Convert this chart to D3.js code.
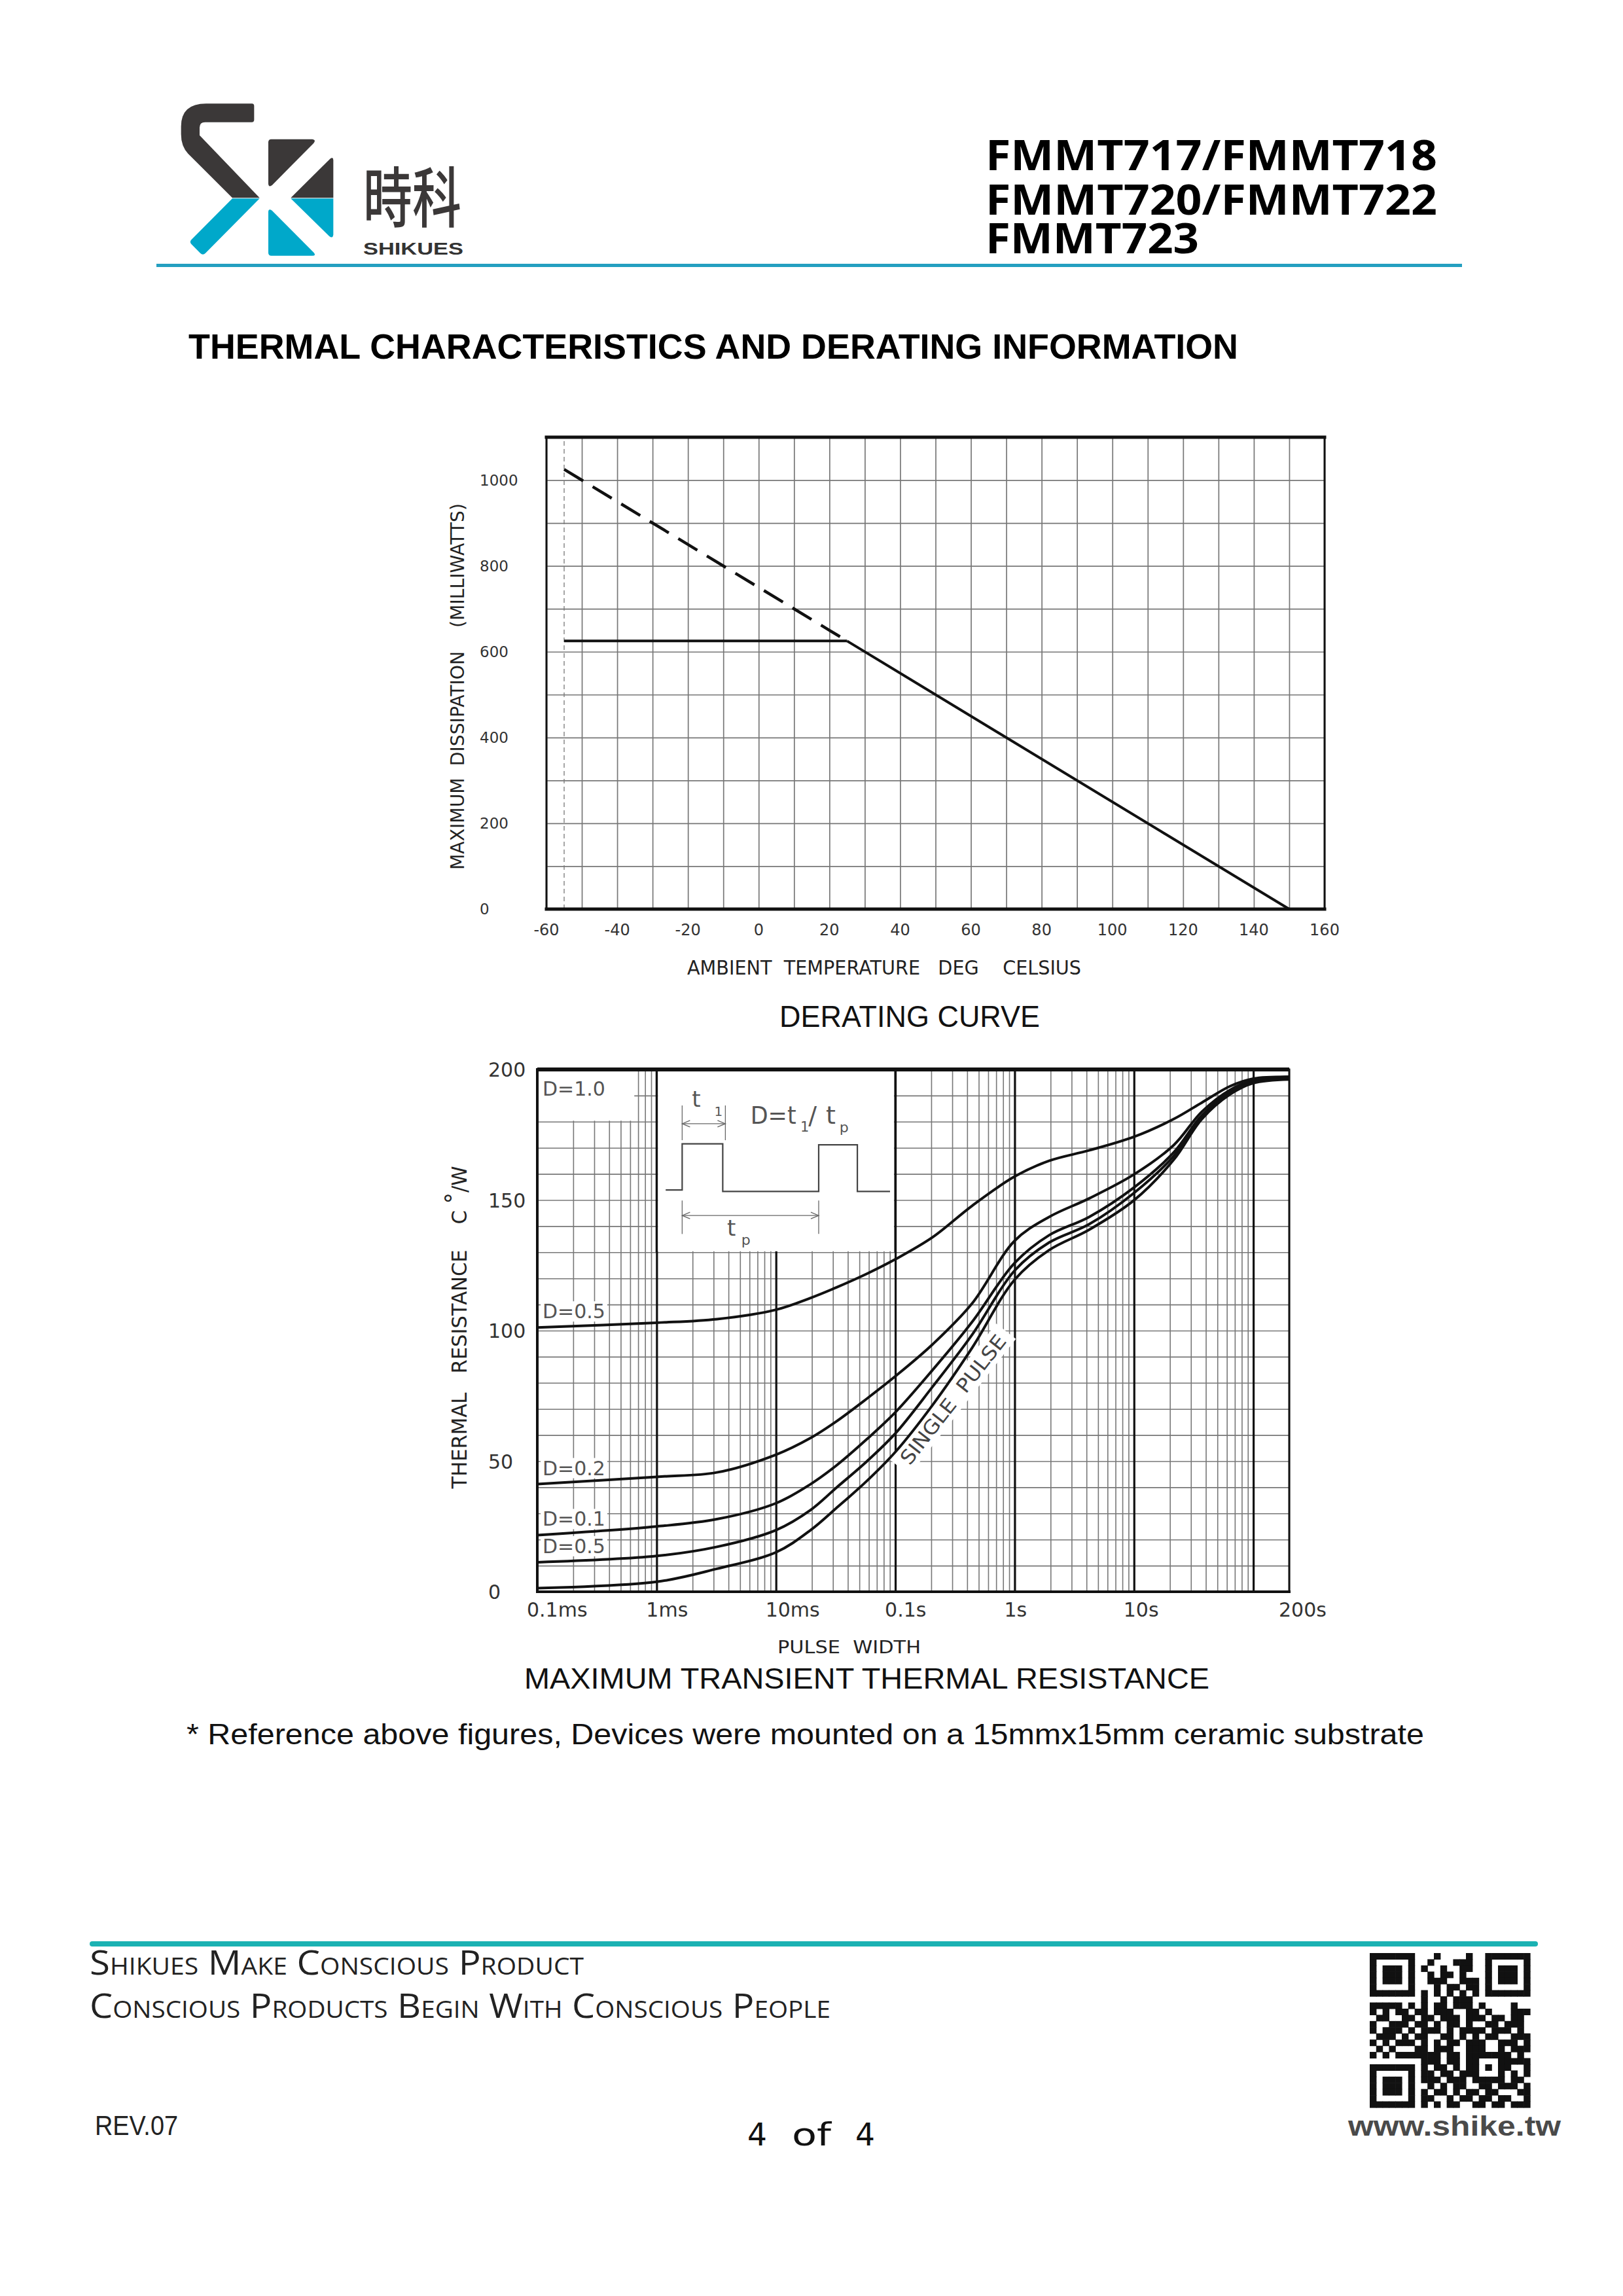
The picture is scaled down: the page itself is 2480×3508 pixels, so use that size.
<!DOCTYPE html>
<html><head><meta charset="utf-8">
<script src="https://cdn.jsdelivr.net/npm/d3@7"></script>
<style>body{margin:0;background:#fff}svg{display:block}</style>
</head><body>
<svg id="page" width="2480" height="3508"></svg>
<script>
// ---------------- DATA ----------------
// Derating curve
const deratingTempTicks = [-60, -40, -20, 0, 20, 40, 60, 80, 100, 120, 140, 160];
const deratingPowerTicks = [0, 200, 400, 600, 800, 1000];
const deratingDashedT = [-55, 25];
const deratingDashedP = [1025, 625];
const deratingFlatT = [-55, 25];
const deratingFlatP = [625, 625];
const deratingSlopeT = [25, 150];
const deratingSlopeP = [625, 0];
const deratingMinTemp = -55;

// Transient thermal resistance (pulse width in seconds, resistance in C/W)
const pulseWidths = [1e-4, 1e-3, 3.2e-3, 1e-2, 0.0195, 0.032, 0.058, 0.1, 0.206, 0.44, 1, 1.94, 4.2, 10, 21.5, 37, 64, 100, 200];
const rD050 = [101.2, 103, 104.4, 108, 112.5, 116.5, 121.8, 127.3, 135.8, 147.8, 159, 165, 169, 174.2, 181, 187.3, 193.6, 196.5, 197.2];
const rD020 = [41.2, 44, 45.7, 52.5, 58.9, 65.2, 74, 82.5, 94.8, 110.4, 134.4, 143.5, 150.6, 159.8, 171, 183.8, 192.2, 195.8, 197.2];
const rD010 = [21.7, 25, 27.8, 33.9, 41.2, 48.3, 58.5, 68.7, 85, 103.3, 125.9, 136.5, 143.5, 154.8, 168.2, 182.4, 191.5, 195.3, 196.8];
const rD005 = [11.3, 13.7, 17.2, 23.6, 31.3, 39.8, 50, 60.6, 78.6, 98.4, 123, 133.7, 140.7, 152.7, 166.8, 181.7, 191.1, 195, 196.5];
const rSingle = [1.4, 3.8, 8.8, 15.1, 23.6, 32, 42.5, 53.5, 71.6, 93.4, 119.5, 130.8, 138.6, 149.9, 165.4, 181, 190.5, 194.8, 196.2];
const rD100Widths = [1e-4, 200];
const rD100 = [200, 200];
const curveLabels = ["D=1.0", "D=0.5", "D=0.2", "D=0.1", "D=0.5"];
const transientTickValues = [1e-4, 1e-3, 1e-2, 0.1, 1, 10, 200];
const transientTickLabels = ["0.1ms", "1ms", "10ms", "0.1s", "1s", "10s", "200s"];
const decadeLines = [1e-3, 1e-2, 0.1, 1, 10, 100];
const resistanceTicks = [0, 50, 100, 150, 200];
const insetT = [1e-3, 0.1];
const insetR = [130, 200];
const d10BoxT = [1e-4, 6.5e-4];
const d10BoxR = [180, 200];

// QR code bitmap (approximate)
const qrRows = [
"1111111000100001001111111",
"1000001001000111001000001",
"1011101010010011001011101",
"1011101001011010001011101",
"1011101001110011101011101",
"1000001000101101101000001",
"1111111010101010101111111",
"0000000010010111000000000",
"1111101010110111010000100",
"1010110110111001101000111",
"0110011011011101110110110",
"1001110110101101001101110",
"1011101011101011110111010",
"0111010110011010101100111",
"1010111010101101110011101",
"0101000110111001110010111",
"1010111111101101111111010",
"0000000011101101100011111",
"1111111010110101101011001",
"1000001011011011100010101",
"1011101011101110111110110",
"1011101001010110011011101",
"1011101010110101101100011",
"1000001011001011011011001",
"1111111010101100110110111"
];

// ---------------- DRAWING ----------------
const svg = d3.select("#page");
svg.append("rect").attr("width", 2480).attr("height", 3508).attr("fill", "#fff");

function txt(g, s, x, y, o = {}) {
  const t = g.append("text").attr("x", x).attr("y", y)
    .attr("font-family", o.family || "DejaVu Sans")
    .attr("font-size", o.size || 30)
    .attr("fill", o.fill || "#222")
    .attr("xml:space", "preserve")
    .style("white-space", "pre")
    .text(s);
  if (o.weight) t.attr("font-weight", o.weight);
  if (o.anchor) t.attr("text-anchor", o.anchor);
  if (o.len) t.attr("textLength", o.len).attr("lengthAdjust", o.adjust || "spacingAndGlyphs");
  if (o.style) t.attr("style", o.style + ";white-space:pre");
  return t;
}

// ---- Header / logo ----
const logo = svg.append("g").attr("transform", "translate(250,140) scale(0.33333)");
const dark = "#3b3838", blue = "#00a8ca";
logo.append("path").attr("fill", dark)
  .attr("d", "M405,55 Q415,55 415,66 L415,129 Q415,140 404,140 L190,140 Q165,140 165,165 L165,200 L440,487 L315,487 L112,284 Q80,250 80,195 L80,160 Q80,55 195,55 Z");
logo.append("path").attr("fill", blue)
  .attr("d", "M315,490 L440,490 L192,740 Q180,752 168,740 L128,700 Q117,689 128,678 Z");
logo.append("path").attr("fill", dark)
  .attr("d", "M480,232 Q480,218 494,218 L682,218 Q700,221 688,236 L498,428 Q482,441 480,422 Z");
logo.append("path").attr("fill", dark)
  .attr("d", "M583,487 L763,308 Q778,297 778,316 L778,487 Z");
logo.append("path").attr("fill", blue)
  .attr("d", "M583,490 L778,490 L778,655 Q776,676 759,662 Z");
logo.append("path").attr("fill", blue)
  .attr("d", "M480,553 Q480,534 497,545 L688,737 Q701,752 682,752 L494,752 Q480,752 480,738 Z");
txt(svg, "時科", 555, 339, { family: "Noto Sans CJK SC", size: 100, fill: dark, len: 150, weight: 500 });
txt(svg, "SHIKUES", 555, 389, { family: "Liberation Sans", size: 25, fill: "#333", weight: "bold", len: 153 });

// part numbers as one multi-line text
const pn = svg.append("text").attr("font-family", "Open Sans").attr("font-size", 64)
  .attr("font-weight", "bold").attr("fill", "#000");
pn.append("tspan").attr("x", 1506).attr("y", 260).attr("textLength", 690).attr("lengthAdjust", "spacingAndGlyphs").text("FMMT717/FMMT718");
pn.append("tspan").attr("x", 1506).attr("y", 328).attr("textLength", 690).attr("lengthAdjust", "spacingAndGlyphs").text("FMMT720/FMMT722");
pn.append("tspan").attr("x", 1506).attr("y", 387).attr("textLength", 326).attr("lengthAdjust", "spacingAndGlyphs").text("FMMT723");
svg.append("rect").attr("x", 239).attr("y", 403).attr("width", 1995).attr("height", 5).attr("fill", "#249fc0");

txt(svg, "THERMAL CHARACTERISTICS AND DERATING INFORMATION", 288, 548,
  { family: "Liberation Sans", size: 53, weight: "bold", fill: "#000", len: 1604 });

// ---- Derating chart ----
const dx = d3.scaleLinear().domain([-60, 160]).range([835, 2024]);
const dy = d3.scaleLinear().domain([0, 1100]).range([1389, 668]);
const dG = svg.append("g");
const gridStyle = (g, col, w) => { g.select(".domain").remove(); g.selectAll("line").attr("stroke", col).attr("stroke-width", w); g.selectAll("text").remove(); };
dG.append("g").attr("transform", `translate(0,${dy(0)})`)
  .call(d3.axisBottom(dx).ticks(22).tickSize(-(dy(0) - dy(1100))).tickFormat(""))
  .call(g => gridStyle(g, "#777", 1.7));
dG.append("g").attr("transform", `translate(${dx(-60)},0)`)
  .call(d3.axisLeft(dy).ticks(11).tickSize(-(dx(160) - dx(-60))).tickFormat(""))
  .call(g => gridStyle(g, "#777", 1.7));
dG.append("line").attr("x1", dx(deratingMinTemp)).attr("x2", dx(deratingMinTemp))
  .attr("y1", dy(0)).attr("y2", dy(1100)).attr("stroke", "#777").attr("stroke-width", 1.3).attr("stroke-dasharray", "7,5");
const dLine = d3.line().x(d => dx(d[0])).y(d => dy(d[1]));
dG.append("path").datum(d3.zip(deratingDashedT, deratingDashedP)).attr("d", dLine)
  .attr("fill", "none").attr("stroke", "#111").attr("stroke-width", 4.5).attr("stroke-dasharray", "34,17");
dG.append("path").datum(d3.zip(deratingFlatT, deratingFlatP)).attr("d", dLine)
  .attr("fill", "none").attr("stroke", "#111").attr("stroke-width", 4);
dG.append("path").datum(d3.zip(deratingSlopeT, deratingSlopeP)).attr("d", dLine)
  .attr("fill", "none").attr("stroke", "#111").attr("stroke-width", 4);
const frame = (g, x1, y1, x2, y2, w) => g.append("line").attr("x1", x1).attr("y1", y1).attr("x2", x2).attr("y2", y2).attr("stroke", "#111").attr("stroke-width", w).attr("stroke-linecap", "square");
frame(dG, dx(-60), dy(1100), dx(160), dy(1100), 5);
frame(dG, dx(-60), dy(0), dx(160), dy(0), 5);
frame(dG, dx(-60), dy(0), dx(-60), dy(1100), 3);
frame(dG, dx(160), dy(0), dx(160), dy(1100), 3);
deratingTempTicks.forEach(t => txt(dG, String(t), dx(t), 1429, { size: 24, anchor: "middle", fill: "#333" }));
deratingPowerTicks.forEach(p => txt(dG, String(p), 733, dy(p) + 8, { size: 23, fill: "#333" }));
txt(dG.append("g").attr("transform", "translate(709,1049) rotate(-90)"), "MAXIMUM  DISSIPATION    (MILLIWATTS)", 0, 0,
  { size: 29, anchor: "middle", fill: "#222", len: 560 });
txt(dG, "AMBIENT  TEMPERATURE   DEG    CELSIUS", 1050, 1489, { size: 30, fill: "#222", len: 602 });
txt(dG, "DERATING CURVE", 1191, 1569, { family: "Liberation Sans", size: 47, fill: "#111", len: 398 });

// ---- Transient thermal resistance chart ----
const tx = d3.scaleLog().domain([1e-4, 200]).range([821, 1970]);
const ty = d3.scaleLinear().domain([0, 200]).range([2432, 1634]);
const tG = svg.append("g");
const gridL = tG.append("g"), whiteL = tG.append("g"), bgL = tG.append("g"),
      curveL = tG.append("g"), textL = tG.append("g");
gridL.append("g").attr("transform", `translate(0,${ty(0)})`)
  .call(d3.axisBottom(tx).tickValues(tx.ticks()).tickSize(-(ty(0) - ty(200))).tickFormat(""))
  .call(g => gridStyle(g, "#777", 1.6));
gridL.append("g").attr("transform", `translate(${tx(1e-4)},0)`)
  .call(d3.axisLeft(ty).ticks(20).tickSize(-(tx(200) - tx(1e-4))).tickFormat(""))
  .call(g => gridStyle(g, "#777", 1.6));
gridL.append("g").attr("transform", `translate(0,${ty(0)})`)
  .call(d3.axisBottom(tx).tickValues(decadeLines).tickSize(-(ty(0) - ty(200))).tickFormat(""))
  .call(g => gridStyle(g, "#111", 3.2));
// white-out areas (inset box and D=1.0 label box)
whiteL.append("rect").attr("x", tx(insetT[0]) + 2).attr("y", ty(insetR[1]))
  .attr("width", tx(insetT[1]) - tx(insetT[0]) - 4).attr("height", ty(insetR[0]) - ty(insetR[1]) - 1.5).attr("fill", "#fff");
whiteL.append("rect").attr("x", tx(d10BoxT[0]) + 2).attr("y", ty(d10BoxR[1]))
  .attr("width", tx(d10BoxT[1]) - tx(d10BoxT[0]) - 2).attr("height", ty(d10BoxR[0]) - ty(d10BoxR[1]) - 1.5).attr("fill", "#fff");
insetT.forEach(t => whiteL.append("line").attr("x1", tx(t)).attr("x2", tx(t)).attr("y1", ty(insetR[0])).attr("y2", ty(insetR[1]))
  .attr("stroke", "#111").attr("stroke-width", 3.2));

// inset drawing in local units
const ix = d3.scaleLinear().domain([0, 100]).range([tx(insetT[0]), tx(insetT[1])]);
const iy = d3.scaleLinear().domain([0, 100]).range([ty(insetR[1]), ty(insetR[0])]);
const insetG = whiteL.append("g");
const pulseX = [3.8, 10.7, 10.7, 27.7, 27.7, 67.9, 67.9, 84.1, 84.1, 97.8];
const pulseY = [65.9, 65.9, 40.7, 40.7, 66.7, 66.7, 41.2, 41.2, 66.7, 66.7];
insetG.append("path").datum(d3.zip(pulseX, pulseY)).attr("d", d3.line().x(d => ix(d[0])).y(d => iy(d[1])))
  .attr("fill", "none").attr("stroke", "#444").attr("stroke-width", 2.2);
const dimLine = (xa, xb, yv, yt, yb) => {
  [xa, xb].forEach(xv => insetG.append("line").attr("x1", ix(xv)).attr("x2", ix(xv)).attr("y1", iy(yt)).attr("y2", iy(yb)).attr("stroke", "#666").attr("stroke-width", 1.3));
  insetG.append("line").attr("x1", ix(xa)).attr("x2", ix(xb)).attr("y1", iy(yv)).attr("y2", iy(yv)).attr("stroke", "#666").attr("stroke-width", 1.3);
  const ah = 12, aw = 5;
  insetG.append("path").attr("d", `M${ix(xa) + ah},${iy(yv) - aw} L${ix(xa)},${iy(yv)} L${ix(xa) + ah},${iy(yv) + aw}`).attr("fill", "none").attr("stroke", "#666").attr("stroke-width", 1.3);
  insetG.append("path").attr("d", `M${ix(xb) - ah},${iy(yv) - aw} L${ix(xb)},${iy(yv)} L${ix(xb) - ah},${iy(yv) + aw}`).attr("fill", "none").attr("stroke", "#666").attr("stroke-width", 1.3);
};
dimLine(10.7, 28.8, 29.7, 19.7, 38.7);
dimLine(10.7, 67.9, 79.9, 71.7, 90);
const t1 = insetG.append("text").attr("font-family", "DejaVu Sans").attr("fill", "#555").attr("font-size", 34);
t1.append("tspan").attr("x", ix(14.8)).attr("y", iy(20.5)).text("t");
t1.append("tspan").attr("x", ix(24.2)).attr("y", iy(25.5)).attr("font-size", 20).text("1");
const deq = insetG.append("text").attr("font-family", "DejaVu Sans").attr("fill", "#555").attr("font-size", 38);
deq.append("tspan").attr("x", ix(39.3)).attr("y", iy(29.7)).attr("textLength", 70).attr("lengthAdjust", "spacingAndGlyphs").text("D=t");
deq.append("tspan").attr("x", ix(60.2)).attr("y", iy(34)).attr("font-size", 21).text("1");
deq.append("tspan").attr("x", ix(63.6)).attr("y", iy(29.7)).text("/");
deq.append("tspan").attr("x", ix(70.9)).attr("y", iy(29.7)).text("t");
deq.append("tspan").attr("x", ix(76.6)).attr("y", iy(34.5)).attr("font-size", 22).text("p");
const tp = insetG.append("text").attr("font-family", "DejaVu Sans").attr("fill", "#555").attr("font-size", 34);
tp.append("tspan").attr("x", ix(29.5)).attr("y", iy(91)).text("t");
tp.append("tspan").attr("x", ix(35.5)).attr("y", iy(96)).attr("font-size", 22).text("p");

// SINGLE PULSE label with white background
const spG = bgL.append("g").attr("transform", "translate(1456,2138) rotate(-52)");
spG.append("rect").attr("x", -132).attr("y", -19).attr("width", 264).attr("height", 38).attr("fill", "#fff");
txt(spG, "SINGLE  PULSE", 0, 11, { size: 30, anchor: "middle", fill: "#444", len: 242 });

// curves
const series = [
  { label: curveLabels[0], t: rD100Widths, r: rD100, w: 6, lab: -40 },
  { label: curveLabels[1], t: pulseWidths, r: rD050, w: 4, lab: 14 },
  { label: curveLabels[2], t: pulseWidths, r: rD020, w: 4, lab: 14 },
  { label: curveLabels[3], t: pulseWidths, r: rD010, w: 4, lab: 14 },
  { label: curveLabels[4], t: pulseWidths, r: rD005, w: 4, lab: 14 },
  { label: null, t: pulseWidths, r: rSingle, w: 4 }
];
const tLine = d3.line().x(d => tx(d[0])).y(d => ty(d[1])).curve(d3.curveCatmullRom.alpha(0.5));
series.forEach(s => {
  curveL.append("path").datum(d3.zip(s.t, s.r)).attr("d", tLine)
    .attr("fill", "none").attr("stroke", "#111").attr("stroke-width", s.w).attr("stroke-linejoin", "round");
  if (s.label) {
    const t = txt(textL, s.label, tx(s.t[0]) + 8, ty(s.r[0]) - s.lab, { size: 30, fill: "#555" });
    const b = t.node().getBBox();
    bgL.append("rect").attr("x", b.x - 3).attr("y", b.y + 2).attr("width", b.width + 6).attr("height", b.height - 4).attr("fill", "#fff");
  }
});
frame(curveL, tx(1e-4), ty(0), tx(200), ty(0), 4);
frame(curveL, tx(1e-4), ty(0), tx(1e-4), ty(200), 4);
frame(curveL, tx(200), ty(0), tx(200), ty(200), 3);
transientTickValues.forEach((v, i) => txt(textL, transientTickLabels[i], tx(v) - 16, 2470, { size: 30, fill: "#333" }));
resistanceTicks.forEach(v => txt(textL, String(v), 746, ty(v) + 11, { size: 30, fill: "#333" }));
const yt = textL.append("g").attr("transform", "translate(713,2028) rotate(-90)")
  .append("text").attr("x", 0).attr("y", 0).attr("text-anchor", "middle")
  .attr("font-family", "DejaVu Sans").attr("font-size", 32).attr("fill", "#222")
  .attr("xml:space", "preserve").style("white-space", "pre")
  .attr("textLength", 493).attr("lengthAdjust", "spacingAndGlyphs");
yt.append("tspan").text("THERMAL   RESISTANCE    C ");
yt.append("tspan").attr("font-size", 36).attr("dy", -8).text("°");
yt.append("tspan").attr("dy", 8).text("/W");
txt(textL, "PULSE  WIDTH", 1188, 2526, { size: 26, fill: "#222", len: 219 });
txt(svg, "MAXIMUM TRANSIENT THERMAL RESISTANCE", 801, 2580, { family: "Liberation Sans", size: 45, fill: "#111", len: 1047 });

txt(svg, "* Reference above figures, Devices were mounted on a 15mmx15mm ceramic substrate", 285, 2665,
  { family: "Liberation Sans", size: 45, fill: "#111", len: 1891 });

// ---- Footer ----
svg.append("line").attr("x1", 141).attr("x2", 2346).attr("y1", 2970).attr("y2", 2970)
  .attr("stroke", "#1bb2b3").attr("stroke-width", 8).attr("stroke-linecap", "round");
txt(svg, "Shikues Make Conscious Product", 137, 3017, { family: "Open Sans", size: 52, fill: "#222", len: 755, style: "font-variant:small-caps" });
txt(svg, "Conscious Products Begin With Conscious People", 137, 3083, { family: "Open Sans", size: 52, fill: "#222", len: 1132, style: "font-variant:small-caps" });
txt(svg, "REV.07", 145, 3262, { family: "Liberation Sans", size: 42, fill: "#222", len: 127 });
txt(svg, "4", 1142, 3278, { size: 48, fill: "#111", len: 30 });
txt(svg, "of", 1210, 3278, { size: 48, fill: "#111", len: 60 });
txt(svg, "4", 1307, 3278, { size: 48, fill: "#111", len: 30 });
txt(svg, "www.shike.tw", 2060, 3263, { family: "Liberation Sans", size: 42, weight: "bold", fill: "#4a4a4a", len: 325 });

const qx = d3.scaleLinear().domain([0, 25]).range([2093, 2338]);
const qy = d3.scaleLinear().domain([0, 25]).range([2984, 3220]);
const qG = svg.append("g");
qrRows.forEach((row, r) => row.split("").forEach((c, k) => {
  if (c === "1") qG.append("rect").attr("x", qx(k)).attr("y", qy(r))
    .attr("width", qx(k + 1) - qx(k) + 0.6).attr("height", qy(r + 1) - qy(r) + 0.6).attr("fill", "#111");
}));
</script>
</body></html>
